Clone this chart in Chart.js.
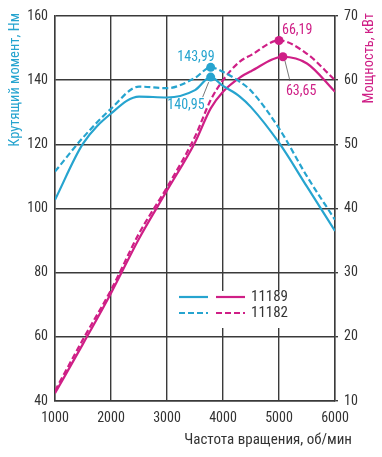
<!DOCTYPE html>
<html>
<head>
<meta charset="utf-8">
<script src="https://cdn.jsdelivr.net/npm/chart.js@4/dist/chart.umd.min.js"></script>
<style>
html,body{margin:0;padding:0;background:#fff;}
#wrap{width:382px;height:457px;position:relative;}
</style>
</head>
<body>
<div id="wrap"><canvas id="c" width="382" height="457"></canvas></div>
<script>
// ---- data ----
const rpmTorque = [1000,1500,2000,2500,3000,3500,3780,4000,4300,4500,5000,5500,6000];
const torque11189 = [102.7,120.2,129.6,134.9,134.6,136.9,140.95,138.2,134.9,131.6,120.5,106.8,93.0];
const torque11182 = [111.5,122.1,131.1,138.0,137.5,140.7,143.99,142.6,139.5,136.7,125.0,110.0,96.5];
const rpmPower11189 = [1000,1500,2000,2500,3000,3500,3780,4000,4300,4500,5070,5500,6000];
const power11189 = [11.2,18.9,26.8,35.3,42.8,50.3,55.6,58.2,60.4,61.4,63.65,62.6,58.2];
const rpmPower11182 = [1000,1500,2000,2500,3000,3500,3780,4000,4300,4500,5000,5500,6000];
const power11182 = [11.6,19.6,27.3,36.1,43.3,51.2,56.9,60.0,62.9,63.9,66.19,64.1,60.0];
const xTicks = [1000,2000,3000,4000,5000,6000];
const legendNames = ['11189','11182'];
const xTitle = 'Частота вращения, об/мин';
const yTitle = 'Крутящий момент, Нм';
const y1Title = 'Мощность, кВт';

const CYAN = '#26a4cf';
const MAG = '#cf1f86';
const GRID = '#3a3a3a';
const FONT = "'Liberation Sans Narrow', 'Roboto Condensed', 'Arial Narrow', Roboto, sans-serif";

function pts(xs, ys){ return xs.map((x,i)=>({x:x, y:ys[i]})); }
function peakIdx(ys){ let m=0; ys.forEach((v,i)=>{ if(v>ys[m]) m=i; }); return m; }
function peakRadius(ys){ const p=peakIdx(ys); return ys.map((v,i)=> i===p?4.5:0); }
function fmt(v){ return v.toFixed(2).replace('.', ','); }

const datasets = [
  {label:'t11189', data:pts(rpmTorque,torque11189), yAxisID:'y', borderColor:CYAN, backgroundColor:CYAN, borderWidth:2.2, pointRadius:peakRadius(torque11189), pointBorderWidth:0, cubicInterpolationMode:'monotone'},
  {label:'t11182', data:pts(rpmTorque,torque11182), yAxisID:'y', borderColor:CYAN, backgroundColor:CYAN, borderWidth:2.2, borderDash:[6,3], pointRadius:peakRadius(torque11182), pointBorderWidth:0, cubicInterpolationMode:'monotone'},
  {label:'p11189', data:pts(rpmPower11189,power11189), yAxisID:'y1', borderColor:MAG, backgroundColor:MAG, borderWidth:2.2, pointRadius:peakRadius(power11189), pointBorderWidth:0, cubicInterpolationMode:'monotone'},
  {label:'p11182', data:pts(rpmPower11182,power11182), yAxisID:'y1', borderColor:MAG, backgroundColor:MAG, borderWidth:2.2, borderDash:[6,3], pointRadius:peakRadius(power11182), pointBorderWidth:0, cubicInterpolationMode:'monotone'}
];

// annotation placement relative to the peak points
const annot = [
  {ds:1, ys:torque11182, color:CYAN, align:'right', dx:4, dy:-6, leader:null},
  {ds:0, ys:torque11189, color:CYAN, align:'right', dx:-6, dy:32, leader:[-2,5,-8,20]},
  {ds:3, ys:power11182, color:MAG, align:'left', dx:3, dy:-6, leader:null},
  {ds:2, ys:power11189, color:MAG, align:'left', dx:3, dy:38, leader:[2,4,7,24]}
];

const overlay = {
  id:'overlay',
  beforeDatasetsDraw(chart){
    const ctx = chart.ctx, a = chart.chartArea;
    // legend box
    const bx = a.left + 118, by = a.top + 275;
    ctx.save();
    ctx.fillStyle = '#fff';
    ctx.fillRect(bx, by, 120, 37);
    const rows = [by+6, by+22];
    rows.forEach((ry, i)=>{
      ctx.lineWidth = 2.2;
      ctx.setLineDash(i===0?[]:[6,3]);
      ctx.strokeStyle = CYAN;
      ctx.beginPath(); ctx.moveTo(bx+6, ry); ctx.lineTo(bx+35, ry); ctx.stroke();
      ctx.strokeStyle = MAG;
      ctx.beginPath(); ctx.moveTo(bx+43, ry); ctx.lineTo(bx+72, ry); ctx.stroke();
      ctx.setLineDash([]);
      ctx.fillStyle = '#333';
      ctx.font = '15px ' + FONT;
      ctx.textAlign = 'left'; ctx.textBaseline = 'middle';
      ctx.fillText(legendNames[i], bx+78, ry);
    });
    ctx.restore();
  },
  afterDraw(chart){
    const ctx = chart.ctx;
    ctx.save();
    // annotations
    annot.forEach(an=>{
      const p = chart.getDatasetMeta(an.ds).data[peakIdx(an.ys)];
      ctx.fillStyle = an.color;
      ctx.font = '14px ' + FONT;
      ctx.textAlign = an.align; ctx.textBaseline = 'alphabetic';
      ctx.fillText(fmt(an.ys[peakIdx(an.ys)]), p.x+an.dx, p.y+an.dy);
      if(an.leader){
        ctx.strokeStyle = '#555'; ctx.lineWidth = 0.8;
        ctx.beginPath(); ctx.moveTo(p.x+an.leader[0], p.y+an.leader[1]); ctx.lineTo(p.x+an.leader[2], p.y+an.leader[3]); ctx.stroke();
      }
    });
    // axis titles
    ctx.font = '15px ' + FONT;
    ctx.fillStyle = '#333';
    ctx.textAlign = 'right'; ctx.textBaseline = 'alphabetic';
    ctx.fillText(xTitle, 352, 444);
    ctx.font = '14.5px ' + FONT;
    ctx.save();
    ctx.translate(15, 13); ctx.rotate(-Math.PI/2);
    ctx.fillStyle = CYAN; ctx.textAlign = 'right'; ctx.textBaseline = 'middle';
    ctx.fillText(yTitle, 0, 0);
    ctx.restore();
    ctx.save();
    ctx.translate(369, 13); ctx.rotate(-Math.PI/2);
    ctx.fillStyle = MAG; ctx.textAlign = 'right'; ctx.textBaseline = 'middle';
    ctx.fillText(y1Title, 0, 0);
    ctx.restore();
    ctx.restore();
  }
};

new Chart(document.getElementById('c'), {
  type:'line',
  data:{datasets:datasets},
  options:{
    responsive:false, animation:false, devicePixelRatio:1,
    layout:{padding:{top:16,left:0,right:0,bottom:0}},
    plugins:{legend:{display:false}, tooltip:{enabled:false}},
    scales:{
      x:{type:'linear', min:1000, max:6000,
        afterBuildTicks(s){ s.ticks = xTicks.map(v=>({value:v})); },
        afterFit(s){ s.height = 56; },
        ticks:{padding:9, color:'#333', font:{family:FONT, size:14}, maxRotation:0, callback:v=>String(v)},
        grid:{color:GRID, lineWidth:1.4, drawTicks:false},
        border:{color:GRID, width:1.4}
      },
      y:{position:'left', min:40, max:160,
        afterFit(s){ s.width = 55; },
        ticks:{stepSize:20, padding:7, color:'#333', font:{family:FONT, size:14}, callback:v=>String(v)},
        grid:{color:GRID, lineWidth:1.4, drawTicks:false},
        border:{color:GRID, width:1.4}
      },
      y1:{position:'right', min:10, max:70,
        afterFit(s){ s.width = 47; },
        ticks:{stepSize:10, padding:6, color:'#333', font:{family:FONT, size:14}, callback:v=>String(v)},
        grid:{drawOnChartArea:false, color:GRID, lineWidth:1.4, tickLength:3},
        border:{color:GRID, width:1.4}
      }
    }
  },
  plugins:[overlay]
});
</script>
</body>
</html>
